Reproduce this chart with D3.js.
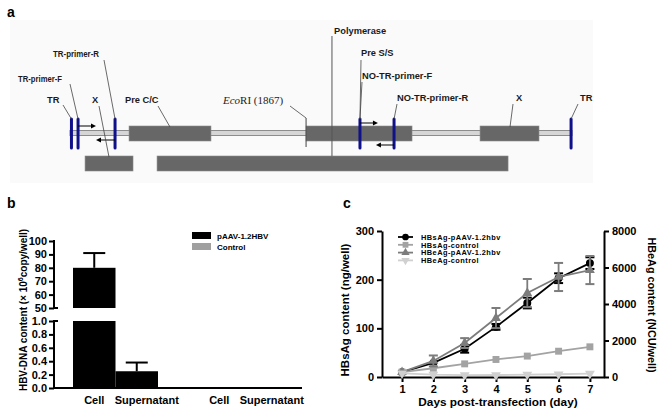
<!DOCTYPE html>
<html><head><meta charset="utf-8">
<script src="https://cdn.jsdelivr.net/npm/d3@7"></script>
<style>
body{margin:0;background:#fff;}
svg{font-family:Arial,"Liberation Sans",sans-serif;}
</style></head>
<body><svg id="c" width="660" height="412"></svg>
<script>
// ---------- Panel a data (positions in bp along the 1.2-mer map) ----------
const mapLength = 3800;
const upperGenes = [
  {name:"Pre C/C", start:447, end:1067},
  {name:"Polymerase / Pre S/S", start:1787, end:2589},
  {name:"X", start:3104, end:3550}
];
const lowerGenes = [ {name:"X", start:114, end:477}, {name:"Polymerase", start:659, end:3316} ];
const siteMarks = [
  {name:"TR", pos:11}, {name:"TR-primer-F", pos:61}, {name:"TR-primer-R", pos:341},
  {name:"NO-TR-primer-F", pos:2195}, {name:"NO-TR-primer-R", pos:2453}, {name:"TR", pos:3793}
];
const ecoRIPos = 1787;
const polymerasePos = 1983;
const primerArrows = [
  {from:61, to:197, lane:"fwd1"}, {from:341, to:197, lane:"rev1"},
  {from:2195, to:2331, lane:"fwd2"}, {from:2453, to:2316, lane:"rev2"}
];

// ---------- Panel b data ----------
const bGroups = ["pAAV-1.2HBV", "Control"];
const bCategories = ["Cell", "Supernatant"];
const bPAAV = [80, 0.25];
const bPAAVErr = [11, 0.13];
const bControl = [0, 0];
const bUpperTicks = [50, 60, 70, 80, 90, 100];
const bLowerTicks = [0, 0.2, 0.4, 0.6, 0.8, 1.0];

// ---------- Panel c data ----------
const days = [1, 2, 3, 4, 5, 6, 7];
const hbsagPAAV = [10, 29, 58, 103, 152, 203, 234];
const hbsagPAAVErr = [0, 0, 8, 6, 11, 10, 12];
const hbsagControl = [10, 18, 27, 36, 43, 53, 62];
const hbeagPAAV = [270, 880, 1860, 3230, 4600, 5480, 5860];
const hbeagPAAVErr = [0, 300, 270, 550, 770, 770, 770];
const hbeagControl = [200, 130, 100, 110, 130, 150, 180];
const cLeftTicks = [0, 100, 200, 300];
const cRightTicks = [0, 2000, 4000, 6000, 8000];

const svg = d3.select("#c");
svg.append("rect").attr("width",660).attr("height",412).attr("fill","#fff");

// ================= Panel a =================
const ga = svg.append("g");
ga.append("rect").attr("x",10).attr("y",20).attr("width",583).attr("height",163).attr("fill","#fafafa");
ga.append("text").attr("x",7).attr("y",17).attr("font-size",14).attr("font-weight","bold").text("a");
const xa = d3.scaleLinear().domain([0, mapLength]).range([70, 572]);
const navy = "#10108a", boxFill = "#676767";

ga.append("rect").attr("x",xa(0)).attr("y",130.5).attr("width",xa(mapLength)-xa(0)).attr("height",5)
  .attr("fill","#d6d6d6").attr("stroke","#8c8c8c").attr("stroke-width",1);
ga.selectAll(".ug").data(upperGenes).join("rect")
  .attr("x",d=>xa(d.start)).attr("y",126).attr("width",d=>xa(d.end)-xa(d.start)).attr("height",15)
  .attr("fill",boxFill).attr("stroke","#8a8a8a").attr("stroke-width",0.6);
ga.selectAll(".lg").data(lowerGenes).join("rect")
  .attr("x",d=>xa(d.start)).attr("y",156).attr("width",d=>xa(d.end)-xa(d.start)).attr("height",15)
  .attr("fill",boxFill).attr("stroke","#8a8a8a").attr("stroke-width",0.6);
ga.append("line").attr("x1",xa(ecoRIPos)).attr("x2",xa(ecoRIPos)).attr("y1",118).attr("y2",147).attr("stroke","#444").attr("stroke-width",1);
ga.append("line").attr("x1",xa(polymerasePos)).attr("x2",xa(polymerasePos)).attr("y1",36).attr("y2",156).attr("stroke","#555").attr("stroke-width",1);
ga.selectAll(".sm").data(siteMarks).join("line")
  .attr("x1",d=>xa(d.pos)).attr("x2",d=>xa(d.pos)).attr("y1",119).attr("y2",148)
  .attr("stroke",navy).attr("stroke-width",3).attr("stroke-linecap","round");
const laneY = {fwd1:126, rev1:140, fwd2:123, rev2:145};
primerArrows.forEach(p=>{
  const x1 = xa(p.from), x2 = xa(p.to), y = laneY[p.lane], dir = Math.sign(x2-x1);
  ga.append("line").attr("x1",x1).attr("x2",x2-dir*4).attr("y1",y).attr("y2",y).attr("stroke","#000").attr("stroke-width",1);
  ga.append("path").attr("d",`M${x2},${y} L${x2-dir*5},${y-2.5} L${x2-dir*5},${y+2.5} Z`).attr("fill","#000");
});
const aLabels = [
  {t:"TR-primer-R", x:53, y:57, fs:9.2, len:46, l:[[104,60],[xa(341),119]]},
  {t:"TR-primer-F", x:18, y:82, fs:9.2, len:44, l:[[70,84],[xa(61),119]]},
  {t:"TR", x:47, y:103, l:[[63,105],[xa(11),119]]},
  {t:"X", x:92, y:103, l:[[99,106],[109,157]]},
  {t:"Pre C/C", x:125, y:103, l:[[158,106],[170,127]]},
  {t:"Polymerase", x:334, y:34},
  {t:"Pre S/S", x:361, y:56, l:[[361,60],[xa(2195),119]]},
  {t:"NO-TR-primer-F", x:362, y:79, l:[[362,82],[xa(2195),119]]},
  {t:"NO-TR-primer-R", x:397, y:101, l:[[397,104],[xa(2453),119]]},
  {t:"X", x:516, y:101, l:[[513,104],[510,127]]},
  {t:"TR", x:580, y:101, l:[[578,104],[xa(3793),119]]}
];
aLabels.forEach(d=>{
  const t = ga.append("text").attr("x",d.x).attr("y",d.y).attr("font-size",d.fs||9.3).attr("font-weight","bold").attr("fill","#1a1a1a").text(d.t);
  if(d.len) t.attr("textLength",d.len).attr("lengthAdjust","spacingAndGlyphs");
  if(d.l) ga.append("path").attr("d",d3.line()(d.l)).attr("stroke","#444").attr("stroke-width",0.8).attr("fill","none");
});
const eco = ga.append("text").attr("x",223).attr("y",104).attr("font-size",11).style("font-family","'Liberation Serif','Times New Roman',serif").attr("fill","#222");
eco.append("tspan").attr("font-style","italic").text("Eco");
eco.append("tspan").text("RI (1867)");
ga.append("path").attr("d",d3.line()([[290,106],[xa(ecoRIPos),118]])).attr("stroke","#444").attr("stroke-width",0.8).attr("fill","none");

// ================= Panel b =================
const gb = svg.append("g");
gb.append("text").attr("x",7).attr("y",208).attr("font-size",14).attr("font-weight","bold").text("b");
const bAxisX = 54;
const yUp = d3.scaleLinear().domain([50,100]).range([308,241]);
const yLow = d3.scaleLinear().domain([0,1]).range([388,321]);
const xg = d3.scaleBand().domain(bGroups).range([54,302]).paddingInner(0.32).paddingOuter(0.152);
const xc = d3.scaleBand().domain(bCategories).range([0, xg.bandwidth()]);
const bData = [];
bGroups.forEach((g,gi)=>bCategories.forEach((c,ci)=>{
  bData.push({g, c, v: gi===0? bPAAV[ci] : bControl[ci], e: gi===0? bPAAVErr[ci] : 0});
}));
bData.forEach(d=>{
  const x0 = xg(d.g)+xc(d.c), w = xc.bandwidth();
  if(d.v>0){
    gb.append("rect").attr("x",x0).attr("width",w).attr("y",yLow(Math.min(d.v,1))).attr("height",yLow(0)-yLow(Math.min(d.v,1))).attr("fill","#000");
    if(d.v>50) gb.append("rect").attr("x",x0).attr("width",w).attr("y",yUp(d.v)).attr("height",yUp(50)-yUp(d.v)).attr("fill","#000");
  }
  if(d.e>0){
    const ys = d.v>50? yUp : yLow;
    const cx = x0 + w/2;
    gb.append("line").attr("x1",cx).attr("x2",cx).attr("y1",ys(d.v)).attr("y2",ys(d.v+d.e)).attr("stroke","#000").attr("stroke-width",2);
    gb.append("line").attr("x1",cx-11).attr("x2",cx+11).attr("y1",ys(d.v+d.e)).attr("y2",ys(d.v+d.e)).attr("stroke","#000").attr("stroke-width",2);
  }
});
const axUp = gb.append("g").attr("transform",`translate(${bAxisX},0)`)
  .call(d3.axisLeft(yUp).tickValues(bUpperTicks).tickFormat(d3.format("d")).tickSize(5).tickPadding(2));
const axLow = gb.append("g").attr("transform",`translate(${bAxisX},0)`)
  .call(d3.axisLeft(yLow).tickValues(bLowerTicks).tickFormat(d3.format(".1f")).tickSize(5).tickPadding(2));
[axUp,axLow].forEach(a=>{
  a.select(".domain").remove();
  a.selectAll(".tick line").attr("stroke-width",2);
  a.selectAll("text").attr("font-size",11).attr("font-weight","bold").attr("fill","#000");
});
gb.append("line").attr("x1",bAxisX).attr("x2",bAxisX).attr("y1",yUp(100)-1).attr("y2",yUp(50)+1).attr("stroke","#000").attr("stroke-width",2);
gb.append("line").attr("x1",bAxisX).attr("x2",bAxisX).attr("y1",yLow(1)-1).attr("y2",yLow(0)+1).attr("stroke","#000").attr("stroke-width",2);
gb.append("line").attr("x1",bAxisX).attr("x2",bAxisX+4).attr("y1",yUp(50)).attr("y2",yUp(50)).attr("stroke","#000").attr("stroke-width",2);
gb.append("line").attr("x1",bAxisX).attr("x2",bAxisX+4).attr("y1",yLow(1)).attr("y2",yLow(1)).attr("stroke","#000").attr("stroke-width",2);
gb.append("line").attr("x1",bAxisX-1).attr("x2",302).attr("y1",yLow(0)).attr("y2",yLow(0)).attr("stroke","#000").attr("stroke-width",2);
bData.forEach(d=>{
  const cx = xg(d.g)+xc(d.c)+xc.bandwidth()/2 + (d.c==="Supernatant"? 10 : 0);
  gb.append("text").attr("x",cx).attr("y",404).attr("text-anchor","middle").attr("font-size",11).attr("font-weight","bold").text(d.c);
});
const bt = gb.append("text").attr("transform","translate(27,310) rotate(-90)").attr("text-anchor","middle").attr("font-size",10).attr("font-weight","bold");
bt.append("tspan").text("HBV-DNA content (× 10");
bt.append("tspan").attr("font-size",7).attr("dy",-4).text("6");
bt.append("tspan").attr("dy",4).text("copy/well)");
const bLegColors = ["#000","#a0a0a0"];
bGroups.forEach((g,i)=>{
  gb.append("rect").attr("x",192).attr("y",232+i*11).attr("width",19).attr("height",7).attr("fill",bLegColors[i]);
  gb.append("text").attr("x",217).attr("y",239+i*11).attr("font-size",8).attr("font-weight","bold").text(g);
});

// ================= Panel c =================
const gc = svg.append("g");
gc.append("text").attr("x",343).attr("y",208).attr("font-size",14).attr("font-weight","bold").text("c");
const xcS = d3.scaleLinear().domain([0.36,7.45]).range([382,604]);
const yL = d3.scaleLinear().domain([0,300]).range([377,231]);
const yR = d3.scaleLinear().domain([0,8000]).range([377,231]);
function styleAxis(a){
  a.select(".domain").attr("stroke-width",2);
  a.selectAll(".tick line").attr("stroke-width",2);
  a.selectAll("text").attr("font-size",11).attr("font-weight","bold").attr("fill","#000");
}
styleAxis(gc.append("g").attr("transform","translate(382,0)").call(d3.axisLeft(yL).tickValues(cLeftTicks).tickFormat(d3.format("d")).tickSize(5).tickSizeOuter(0).tickPadding(3)));
styleAxis(gc.append("g").attr("transform","translate(604,0)").call(d3.axisRight(yR).tickValues(cRightTicks).tickFormat(d3.format("d")).tickSize(5).tickSizeOuter(0).tickPadding(3)));
styleAxis(gc.append("g").attr("transform","translate(0,377)").call(d3.axisBottom(xcS).tickValues(days).tickFormat(d3.format("d")).tickSize(5).tickSizeOuter(0).tickPadding(3)));
gc.append("text").attr("x",498).attr("y",406).attr("text-anchor","middle").attr("font-size",11.8).attr("font-weight","bold").text("Days post-transfection (day)");
gc.append("text").attr("transform","translate(349,310) rotate(-90)").attr("text-anchor","middle").attr("font-size",11.5).attr("font-weight","bold").text("HBsAg content (ng/well)");
gc.append("text").attr("transform","translate(648,305) rotate(90)").attr("text-anchor","middle").attr("font-size",10.8).attr("font-weight","bold").text("HBeAg content (NCU/well)");

const series = [
  {name:"HBsAg-pAAV-1.2hbv", vals:hbsagPAAV, err:hbsagPAAVErr, y:yL, color:"#000", sym:d3.symbolCircle, size:50, rot:0},
  {name:"HBsAg-control", vals:hbsagControl, err:null, y:yL, color:"#a3a3a3", sym:d3.symbolSquare, size:48, rot:0},
  {name:"HBeAg-pAAV-1.2hbv", vals:hbeagPAAV, err:hbeagPAAVErr, y:yR, color:"#7c7c7c", sym:d3.symbolTriangle, size:42, rot:0},
  {name:"HBeAg-control", vals:hbeagControl, err:null, y:yR, color:"#d0d0d0", sym:d3.symbolTriangle, size:42, rot:180}
];
series.forEach(s=>{
  const pts = days.map((d,i)=>[xcS(d), s.y(s.vals[i])]);
  gc.append("path").attr("d",d3.line()(pts)).attr("fill","none").attr("stroke",s.color).attr("stroke-width",1.8);
  if(s.err){
    days.forEach((d,i)=>{
      if(!s.err[i]) return;
      const x = xcS(d), y1 = s.y(s.vals[i]-s.err[i]), y2 = s.y(s.vals[i]+s.err[i]);
      gc.append("line").attr("x1",x).attr("x2",x).attr("y1",y1).attr("y2",y2).attr("stroke",s.color).attr("stroke-width",1.8);
      [y1,y2].forEach(yy=>gc.append("line").attr("x1",x-4.5).attr("x2",x+4.5).attr("y1",yy).attr("y2",yy).attr("stroke",s.color).attr("stroke-width",2));
    });
  }
  gc.selectAll(null).data(pts).join("path")
    .attr("d",d3.symbol().type(s.sym).size(s.size))
    .attr("transform",p=>`translate(${p[0]},${p[1]}) rotate(${s.rot})`).attr("fill",s.color);
});
series.forEach((s,i)=>{
  const y = 237 + i*7.8;
  gc.append("line").attr("x1",398).attr("x2",413).attr("y1",y).attr("y2",y).attr("stroke",s.color).attr("stroke-width",1.8);
  gc.append("path").attr("d",d3.symbol().type(s.sym).size(s.size*0.7)).attr("transform",`translate(405.5,${y}) rotate(${s.rot})`).attr("fill",s.color);
  gc.append("text").attr("x",421).attr("y",y+2.7).attr("font-size",7.4).attr("letter-spacing",0.45).attr("font-weight","bold").text(s.name);
});
</script></body></html>
